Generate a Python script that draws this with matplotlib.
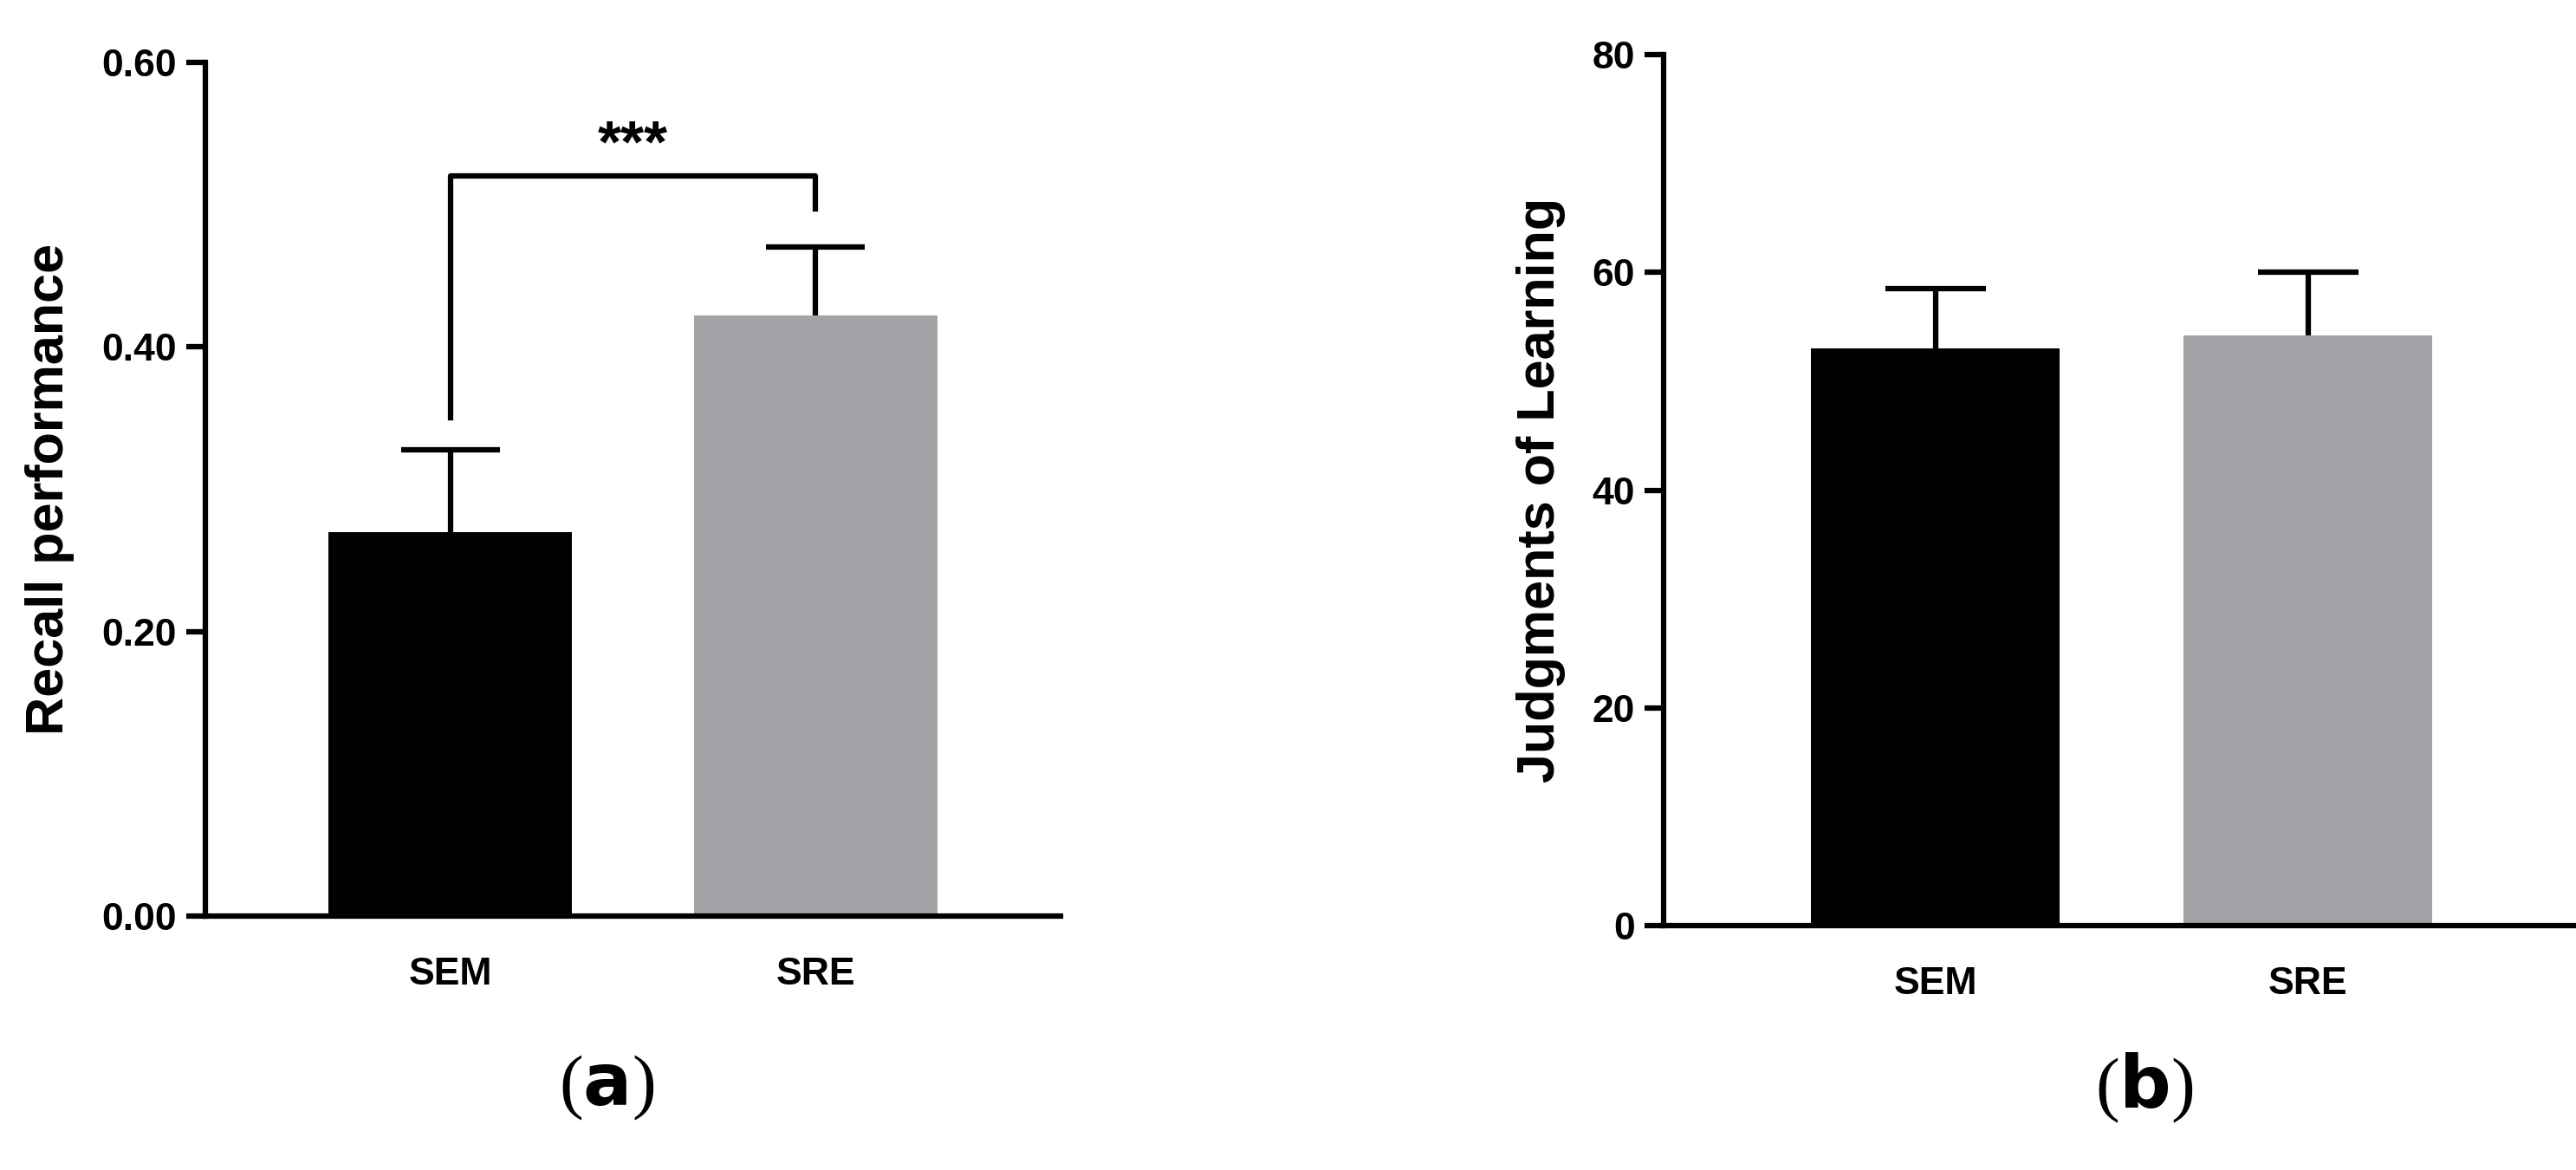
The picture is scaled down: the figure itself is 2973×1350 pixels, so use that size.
import matplotlib
matplotlib.use("Agg")
import matplotlib.pyplot as plt

cats = ["SEM", "SRE"]
recall = [0.27, 0.422]
recall_err = [0.058, 0.048]
jol = [53.0, 54.2]
jol_err = [5.5, 5.8]
colors = ["#000000", "#a3a2a7"]

plt.rcParams['font.family'] = ['Liberation Sans', 'DejaVu Sans']
W, H = 2973, 1350
fig = plt.figure(figsize=(W/100, H/100), dpi=100)
lw = 4.5

def style(ax):
    for s in ["top", "right"]:
        ax.spines[s].set_visible(False)
    for s in ["left", "bottom"]:
        ax.spines[s].set_linewidth(lw)
    ax.tick_params(width=lw, length=16, labelsize=32, pad=8)
    ax.tick_params(axis='x', length=0, pad=34)
    for t in ax.get_xticklabels() + ax.get_yticklabels():
        t.set_fontweight('bold')

def upper_err(ax, x, vals, errs, cw):
    for xi, v, e in zip(x, vals, errs):
        ax.plot([xi, xi], [v, v + e], color='black', lw=lw, solid_capstyle='butt')
        ax.plot([xi - cw/2, xi + cw/2], [v + e, v + e], color='black', lw=lw, solid_capstyle='butt')

x = [0, 1]
ax1 = fig.add_axes([237/W, 1-1057/H, (1224-237)/W, (1057-72)/H])
ax1.bar(x, recall, width=0.667, color=colors)
upper_err(ax1, x, recall, recall_err, 0.27)
ax1.set_xlim(-0.67, 1.67)
ax1.set_ylim(0, 0.6)
ax1.set_yticks([0, 0.2, 0.4, 0.6])
ax1.set_yticklabels(["0.00", "0.20", "0.40", "0.60"])
ax1.set_xticks(x)
ax1.set_xticklabels(cats)
ax1.set_ylabel("Recall performance", fontsize=44, fontweight='bold', labelpad=22)
ax1.plot([0, 0, 1, 1], [0.35, 0.52, 0.52, 0.497], color='black', lw=lw, clip_on=False)
ax1.text(0.5, 0.522, "***", ha='center', va='bottom', fontsize=50, fontweight='bold')
style(ax1)

ax2 = fig.add_axes([1920/W, 1-1068/H, (2973-1920)/W, (1068-63)/H])
ax2.bar(x, jol, width=0.667, color=colors)
upper_err(ax2, x, jol, jol_err, 0.27)
ax2.set_xlim(-0.73, 1.72)
ax2.set_ylim(0, 80)
ax2.set_yticks([0, 20, 40, 60, 80])
ax2.set_xticks(x)
ax2.set_xticklabels(cats)
ax2.set_ylabel("Judgments of Learning", fontsize=44, fontweight='bold', labelpad=22)
style(ax2)

fig.text(700/W, 1-1255/H, r"($\mathbf{a}$)", fontsize=60, family='Liberation Serif',
         ha='center', va='center')
fig.text(2475/W, 1-1255/H, r"($\mathbf{b}$)", fontsize=60, family='Liberation Serif',
         ha='center', va='center')
plt.rcParams['mathtext.fontset'] = 'custom'

fig.savefig("out.png", dpi=100)
